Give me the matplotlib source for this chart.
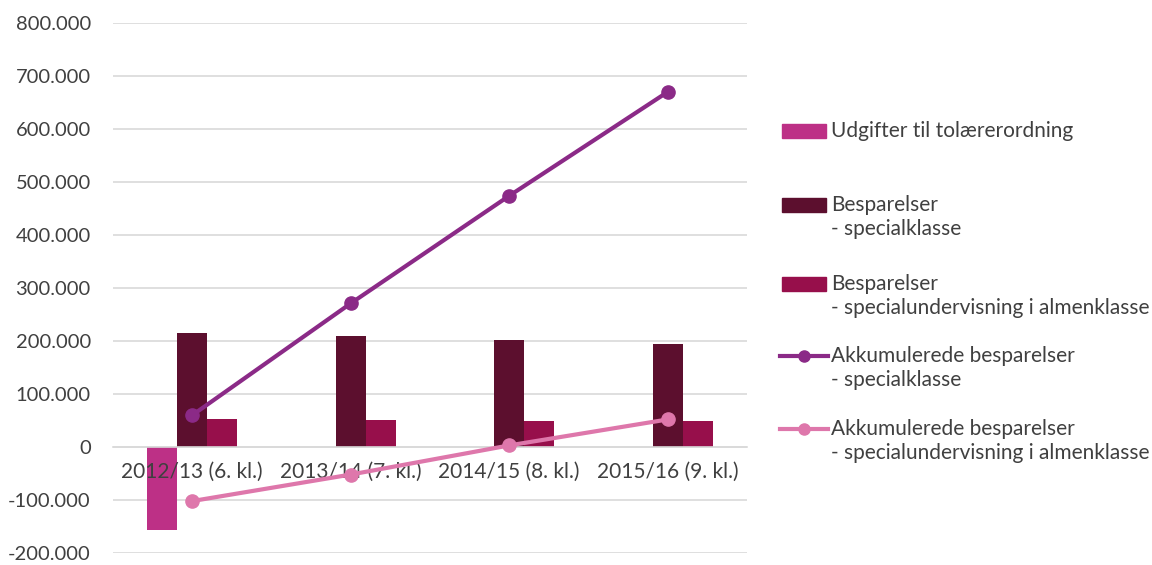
"""
Udgifter til tolærerordning vs. besparelser (2012/13 - 2015/16).
Søjler: årlige udgifter/besparelser. Linjer: akkumulerede besparelser.
"""

import matplotlib
matplotlib.use("Agg")

import matplotlib.pyplot as plt
import numpy as np
from matplotlib.lines import Line2D
from matplotlib.patches import Rectangle
from matplotlib.ticker import FuncFormatter

plt.rcParams["font.family"] = ["Lato", "DejaVu Sans"]

# --- data ---
kategorier = ["2012/13 (6. kl.)", "2013/14 (7. kl.)", "2014/15 (8. kl.)", "2015/16 (9. kl.)"]
udgifter = [-157000, 0, 0, 0]
besp_special = [216000, 209000, 202000, 195000]
besp_almen = [53000, 51500, 49500, 48500]
akk_special = [60000, 271000, 474000, 670000]
akk_almen = [-102000, -52000, 3000, 52000]

navne = [
    ["Udgifter til tolærerordning"],
    ["Besparelser", "- specialklasse"],
    ["Besparelser", "- specialundervisning i almenklasse"],
    ["Akkumulerede besparelser", "- specialklasse"],
    ["Akkumulerede besparelser", "- specialundervisning i almenklasse"],
]

FARVER = ["#BD3086", "#5C0F2E", "#970F4B", "#8B2A87", "#DE77AB"]
TEKST = "#404040"
GRID = "#D9D9D9"
FS = 15
LW = 3.0

fig = plt.figure(figsize=(11.52, 5.65), dpi=100)
ax = fig.add_axes([113 / 1152, 1 - 553 / 565, 634 / 1152, 530 / 565])

x = np.arange(len(kategorier))
b = 0.19
ax.bar(x[:1] - b, udgifter[:1], b, color=FARVER[0], zorder=2)
ax.bar(x, besp_special, b, color=FARVER[1], zorder=2)
ax.bar(x + b, besp_almen, b, color=FARVER[2], zorder=2)
ax.plot(x, akk_special, color=FARVER[3], lw=LW, marker="o", ms=9.5, zorder=4)
ax.plot(x, akk_almen, color=FARVER[4], lw=LW, marker="o", ms=9.5, zorder=4)

ax.set_xlim(-0.5, len(kategorier) - 0.5)
ax.set_ylim(-200000, 800000)
ax.set_yticks(np.arange(-200000, 800001, 100000))
ax.yaxis.set_major_formatter(FuncFormatter(lambda v, _: f"{v:,.0f}".replace(",", ".")))
ax.grid(axis="y", color=GRID, lw=1.2, zorder=0)
ax.set_axisbelow(True)

for s in ["top", "right", "left"]:
    ax.spines[s].set_visible(False)
ax.spines["bottom"].set_position(("data", 0))
ax.spines["bottom"].set_color(GRID)
ax.spines["bottom"].set_linewidth(1.2)
ax.set_xticks(x)
ax.set_xticklabels([])
ax.tick_params(axis="x", length=0)
ax.tick_params(axis="y", length=0, pad=16, labelsize=14.5, labelcolor=TEKST)

# kategorinavne lige under nul-linjen, oven på søjlerne
for xi, navn in zip(x, kategorier):
    ax.annotate(navn, xy=(xi, 0), xytext=(0, -18), textcoords="offset points",
                ha="center", va="center", fontsize=FS, color=TEKST, zorder=3)

# --- forklaring (tegnet manuelt, så symbolet står ud for første linje) ---
rader = [131, 205, 284, 356, 429]
for i, (navn, yy) in enumerate(zip(navne, rader)):
    yf = 1 - yy / 565
    if i < 3:
        fig.add_artist(Rectangle((782 / 1152, yf - 7 / 565), 44 / 1152, 14 / 565,
                                 transform=fig.transFigure, color=FARVER[i]))
    else:
        fig.add_artist(Line2D([780 / 1152, 828 / 1152], [yf, yf], transform=fig.transFigure,
                              color=FARVER[i], lw=LW))
        fig.add_artist(Line2D([804 / 1152], [yf], transform=fig.transFigure,
                              color=FARVER[i], marker="o", ms=8, lw=0))
    for j, linje in enumerate(navn):
        fig.text(831 / 1152, 1 - (yy + 24 * j) / 565, linje, fontsize=FS,
                 color=TEKST, va="center", ha="left")

fig.savefig("out.png", dpi=100)
